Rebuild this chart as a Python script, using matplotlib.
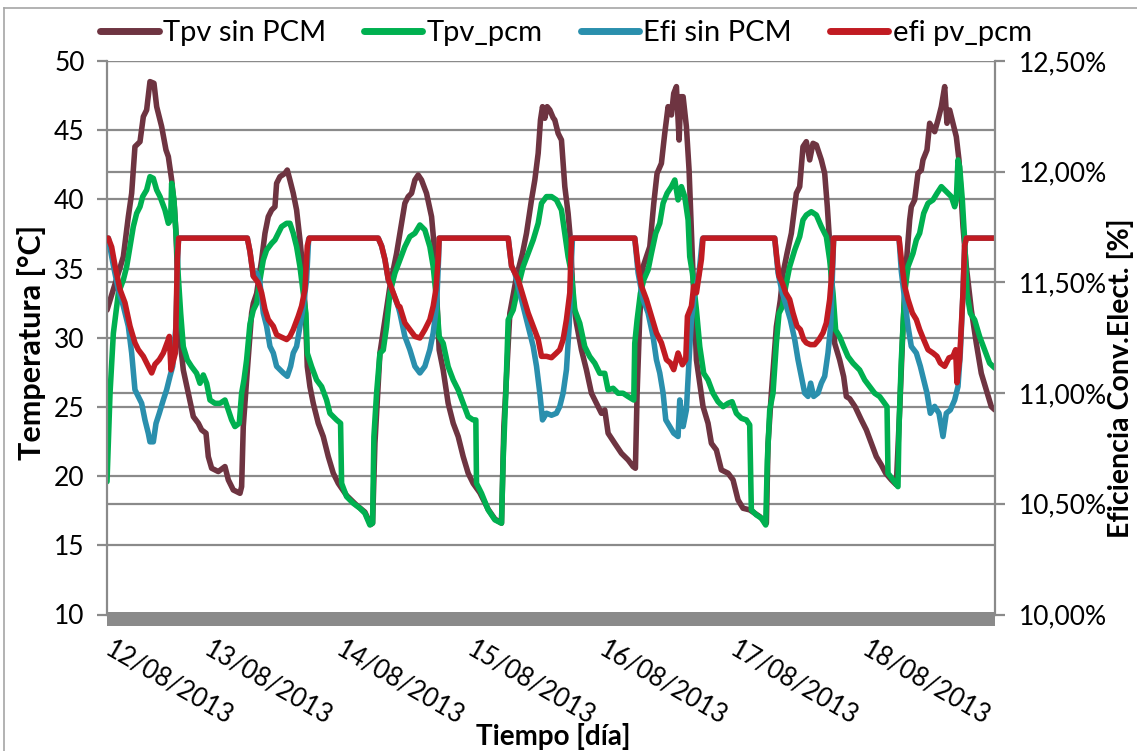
import matplotlib
matplotlib.use("Agg")
import matplotlib.pyplot as plt
from matplotlib.patches import Rectangle
from matplotlib.lines import Line2D
from matplotlib.transforms import ScaledTranslation
import numpy as np

# hours counted from 12/08/2013 00:00
day_ticks_h = [6, 24, 48, 72, 96, 120, 144]
day_labels = ["12/08/2013", "13/08/2013", "14/08/2013", "15/08/2013",
              "16/08/2013", "17/08/2013", "18/08/2013"]
t_start, t_end = 6, 168

# (hour, °C)
tpv_sin_pcm = [
    (6.0, 32.0), (8.07, 34.66), (8.98, 35.86), (9.89, 38.75), (10.5, 40.44), (11.1, 43.81),
    (12.02, 44.17), (12.63, 45.98), (13.23, 46.46), (13.84, 48.51), (14.57, 48.39), (15.06, 46.7),
    (15.97, 45.26), (16.76, 43.57), (17.19, 43.09), (17.8, 41.4), (18.3, 39.4), (18.6, 37.5),
    (19.19, 30.3), (19.92, 27.67), (20.83, 25.99), (21.75, 24.3), (22.66, 23.82), (23.26, 23.34),
    (24.06, 23.1), (24.48, 21.41), (25.09, 20.57), (26.3, 20.33), (27.52, 20.69), (28.13, 19.73),
    (29.04, 19.0), (30.26, 18.76), (30.56, 19.24), (30.86, 23.58), (31.47, 26.95), (32.38, 31.77),
    (32.69, 32.49), (33.3, 33.2), (34.21, 35.62), (34.82, 37.55), (35.42, 38.75), (36.03, 39.23),
    (36.64, 39.47), (36.94, 41.16), (37.55, 41.64), (38.46, 41.88), (38.89, 42.12), (39.37, 41.4),
    (39.98, 40.44), (40.59, 39.23), (41.2, 37.07), (41.81, 34.66), (42.29, 30.8), (42.54, 27.91),
    (43.02, 26.47), (43.63, 25.26), (44.54, 23.82), (45.45, 22.86), (46.37, 21.41), (47.28, 20.21),
    (48.19, 19.48), (49.71, 18.6), (51.53, 17.9), (53.05, 17.4), (54.09, 16.5), (54.45, 16.6),
    (54.88, 22.37), (55.79, 28.88), (57.61, 33.7), (58.83, 36.1), (59.43, 37.55), (60.34, 39.72),
    (60.95, 40.2), (61.56, 40.44), (62.17, 41.4), (62.77, 41.76), (63.38, 41.4), (64.29, 40.44),
    (65.21, 38.75), (65.81, 36.1), (66.24, 32.25), (66.6, 29.12), (67.33, 27.67), (68.24, 25.26),
    (69.16, 23.82), (70.07, 22.86), (70.98, 21.41), (71.89, 20.21), (72.8, 19.48), (74.02, 18.8),
    (75.54, 17.6), (76.76, 16.9), (77.97, 16.6), (78.4, 23.58), (79.49, 31.77), (80.71, 34.42),
    (81.8, 36.1), (82.53, 37.55), (83.44, 39.96), (84.05, 41.4), (84.66, 43.33), (85.08, 45.74),
    (85.45, 46.7), (85.87, 45.86), (86.3, 46.7), (86.79, 46.46), (87.39, 45.9), (87.69, 45.74),
    (88.3, 44.77), (88.91, 44.29), (89.52, 40.92), (90.12, 38.99), (90.55, 37.07), (91.04, 32.73),
    (91.64, 31.05), (92.56, 29.12), (93.47, 27.67), (94.38, 25.99), (95.29, 25.26), (96.2, 24.54),
    (96.81, 24.78), (97.42, 23.1), (98.63, 22.37), (99.85, 21.65), (101.07, 21.17), (101.98, 20.69),
    (102.4, 20.57), (102.71, 25.99), (103.19, 31.53), (103.8, 35.14), (104.41, 35.86), (105.02, 36.58),
    (105.75, 39.72), (106.35, 41.88), (107.14, 42.6), (107.75, 44.77), (108.36, 46.7), (108.97, 46.1),
    (109.39, 47.66), (109.88, 48.15), (110.37, 44.29), (110.67, 47.42), (111.1, 47.42), (111.7, 45.26),
    (112.19, 42.12), (112.62, 37.55), (113.04, 33.21), (113.53, 28.4), (114.2, 26.5), (114.74, 25.02),
    (115.65, 23.82), (116.26, 22.37), (117.17, 21.89), (118.08, 20.45), (119.3, 20.21), (120.21, 19.73),
    (121.12, 18.28), (122.03, 17.68), (123.25, 17.56), (125.07, 17.08), (126.29, 16.6), (126.6, 22.37),
    (127.2, 25.99), (128.11, 30.8), (128.84, 32.73), (129.33, 34.66), (130.06, 36.1), (130.85, 37.55),
    (131.76, 40.44), (132.37, 40.92), (132.97, 43.81), (133.58, 44.17), (134.19, 42.85), (134.8, 44.05),
    (135.41, 43.93), (136.32, 42.85), (136.93, 41.88), (137.41, 39.47), (137.96, 36.1), (138.33, 32.73),
    (138.75, 29.6), (139.66, 28.4), (140.39, 27.19), (140.88, 25.75), (141.49, 25.6), (142.5, 25.0),
    (143.62, 24.06), (144.53, 23.34), (145.44, 22.37), (146.35, 21.41), (147.26, 20.81), (148.06, 20.21),
    (149.09, 19.73), (150.0, 19.37), (150.61, 24.78), (151.22, 30.8), (151.82, 35.38), (152.43, 38.51),
    (152.73, 39.47), (153.34, 39.96), (153.95, 41.88), (154.56, 42.12), (154.86, 42.85), (155.59, 43.57),
    (156.08, 45.5), (156.99, 44.89), (157.6, 45.74), (158.21, 46.7), (158.82, 48.15), (159.24, 45.5),
    (159.73, 46.46), (160.33, 45.5), (160.94, 44.53), (161.43, 42.85), (162.16, 38.03), (162.77, 35.14),
    (163.68, 32.01), (164.59, 29.6), (165.5, 27.43), (166.41, 26.23), (167.33, 25.02), (168.0, 24.78),
]

tpv_pcm = [
    (6.0, 19.6), (6.55, 25.98), (7.16, 30.32), (8.07, 33.21), (8.98, 34.18), (9.59, 35.14),
    (10.2, 36.58), (10.8, 38.03), (11.41, 38.99), (12.02, 39.47), (12.51, 40.2), (13.23, 40.68),
    (13.84, 41.64), (14.45, 41.52), (15.06, 40.68), (15.67, 40.2), (16.58, 39.23), (17.19, 38.27),
    (17.61, 38.51), (17.79, 41.16), (18.22, 39.96), (18.58, 37.55), (19.01, 34.42), (19.44, 31.77),
    (19.92, 29.36), (20.65, 28.4), (21.44, 27.91), (22.35, 27.43), (22.96, 26.71), (23.57, 27.31),
    (24.18, 26.71), (24.79, 25.5), (25.7, 25.26), (26.61, 25.26), (27.52, 25.5), (28.13, 24.78),
    (28.74, 24.06), (29.34, 23.58), (30.13, 23.82), (30.56, 25.99), (30.99, 26.95), (31.47, 28.4),
    (32.08, 31.0), (32.69, 32.0), (33.3, 32.49), (33.9, 34.18), (34.51, 35.62), (35.12, 36.34),
    (36.03, 36.82), (36.64, 37.07), (37.25, 37.55), (37.85, 38.03), (38.77, 38.27), (39.37, 38.27),
    (39.98, 37.55), (40.59, 36.58), (41.2, 35.14), (41.81, 33.21), (42.29, 31.77), (42.54, 28.88),
    (43.33, 27.91), (44.24, 26.95), (45.15, 26.47), (46.06, 25.5), (46.67, 24.54), (47.89, 24.06),
    (48.61, 23.82), (48.8, 19.48), (49.71, 18.52), (50.92, 18.04), (52.14, 17.68), (53.05, 17.32),
    (53.96, 16.47), (54.45, 16.6), (54.69, 22.85), (55.18, 25.99), (55.79, 28.88), (56.4, 29.12),
    (57.0, 30.8), (57.61, 33.21), (58.52, 34.66), (59.44, 35.62), (60.34, 36.58), (61.25, 37.31),
    (62.17, 37.55), (63.08, 38.15), (63.99, 37.79), (64.9, 36.58), (65.51, 35.14), (66.12, 32.73),
    (66.6, 30.08), (67.33, 29.6), (68.24, 27.91), (69.16, 26.95), (70.07, 26.23), (70.98, 25.26),
    (71.89, 24.3), (72.8, 24.06), (73.29, 24.06), (73.41, 19.48), (74.32, 18.76), (75.54, 17.56),
    (76.76, 16.84), (77.97, 16.6), (78.27, 21.17), (78.76, 25.99), (79.19, 31.29), (80.1, 32.01),
    (81.01, 33.69), (81.92, 35.14), (82.83, 36.1), (83.75, 37.07), (84.66, 38.27), (85.27, 39.72),
    (86.18, 40.2), (87.09, 40.2), (87.99, 39.96), (88.91, 39.23), (89.52, 37.55), (90.12, 35.86),
    (90.73, 34.66), (91.34, 32.01), (92.25, 31.05), (93.16, 29.36), (94.07, 28.64), (94.99, 28.16),
    (95.9, 27.43), (96.81, 27.43), (97.42, 26.23), (98.33, 26.35), (99.24, 25.99), (100.15, 25.99),
    (101.07, 25.75), (102.1, 25.5), (102.28, 29.6), (102.71, 31.29), (103.31, 33.21), (103.92, 34.18),
    (104.71, 34.9), (105.32, 36.1), (106.11, 37.55), (106.84, 38.27), (107.45, 39.72), (108.18, 40.44),
    (108.97, 40.92), (109.58, 41.4), (110.18, 39.96), (110.79, 40.92), (111.4, 40.2), (112.01, 38.51),
    (112.31, 35.86), (112.8, 34.66), (113.53, 32.01), (114.14, 29.36), (114.86, 27.43), (115.65, 26.95),
    (116.56, 25.99), (117.47, 25.38), (118.39, 25.02), (119.3, 25.26), (120.03, 25.38), (120.82, 24.54),
    (121.73, 24.18), (122.64, 24.06), (123.25, 23.7), (123.55, 17.56), (124.46, 17.2), (125.38, 16.96),
    (126.17, 16.47), (126.47, 21.17), (126.9, 24.78), (127.5, 25.99), (128.11, 29.6), (128.6, 31.77),
    (129.2, 32.25), (129.81, 33.69), (130.54, 35.14), (131.46, 36.34), (132.37, 37.31), (132.97, 38.51),
    (133.58, 38.87), (134.49, 39.11), (135.41, 38.87), (136.32, 38.03), (137.23, 37.31), (137.84, 35.62),
    (138.45, 33.21), (138.93, 30.56), (139.66, 30.08), (140.39, 29.36), (141.18, 28.64), (142.1, 28.16),
    (143.31, 27.67), (144.23, 26.95), (145.14, 26.47), (146.05, 25.99), (146.96, 25.75), (147.87, 25.26),
    (148.3, 25.02), (148.48, 20.21), (149.39, 19.73), (150.3, 19.24), (150.49, 23.58), (150.91, 28.4),
    (151.52, 33.21), (152.13, 35.14), (153.04, 36.1), (153.65, 37.07), (154.25, 37.55), (154.99, 38.99),
    (155.78, 39.72), (156.69, 39.96), (157.42, 40.44), (158.21, 40.92), (158.82, 40.68), (159.42, 40.44),
    (160.03, 40.2), (160.64, 39.47), (160.94, 39.96), (161.25, 42.85), (161.55, 42.36), (162.04, 39.96),
    (162.46, 37.07), (162.89, 33.21), (163.5, 31.77), (164.29, 31.29), (165.2, 30.08), (166.11, 29.12),
    (167.02, 28.16), (168.0, 27.8),
]

# (hour, %)
efi_sin_pcm = [
    (6.0, 11.70), (6.24, 11.70), (7.16, 11.576), (8.07, 11.468), (8.98, 11.393), (9.89, 11.302),
    (10.5, 11.181), (11.1, 11.015), (11.71, 10.985), (12.32, 10.954), (12.93, 10.878), (13.54, 10.818),
    (13.84, 10.78), (14.45, 10.78), (14.94, 10.863), (15.54, 10.909), (16.27, 10.969), (16.88, 11.015),
    (17.49, 11.076), (17.98, 11.121), (18.58, 11.302), (18.95, 11.66), (19.07, 11.70), (31.6, 11.70),
    (32.08, 11.64), (32.69, 11.528), (33.3, 11.543), (33.9, 11.498), (34.51, 11.362), (35.12, 11.302),
    (35.73, 11.211), (36.34, 11.181), (36.94, 11.121), (37.55, 11.106), (38.16, 11.091), (38.89, 11.076),
    (39.5, 11.121), (39.98, 11.181), (40.59, 11.211), (41.2, 11.302), (41.81, 11.393), (42.41, 11.513),
    (42.78, 11.695), (42.9, 11.70), (55.48, 11.70), (56.09, 11.665), (56.7, 11.604), (57.31, 11.513),
    (58.22, 11.45), (59.13, 11.39), (59.43, 11.362), (60.34, 11.256), (61.25, 11.196), (62.17, 11.121),
    (63.08, 11.091), (63.99, 11.121), (64.9, 11.196), (65.51, 11.272), (66.12, 11.393), (66.48, 11.6),
    (66.6, 11.70), (79.19, 11.70), (79.8, 11.574), (80.4, 11.543), (81.01, 11.483), (81.92, 11.393),
    (82.83, 11.302), (83.75, 11.211), (84.36, 11.121), (84.96, 11.0), (85.45, 10.879), (86.18, 10.909),
    (87.09, 10.90), (87.99, 10.909), (88.6, 10.94), (89.21, 11.0), (89.82, 11.106), (90.31, 11.302),
    (90.73, 11.604), (90.91, 11.695), (91.04, 11.70), (102.28, 11.70), (102.89, 11.543), (103.8, 11.423),
    (104.71, 11.362), (105.62, 11.256), (106.23, 11.151), (106.84, 11.091), (107.45, 11.0), (107.94, 10.879),
    (108.67, 10.849), (109.39, 10.819), (110.18, 10.804), (110.49, 10.969), (111.1, 10.849), (111.7, 10.924),
    (112.19, 11.151), (112.62, 11.332), (113.22, 11.453), (114.01, 11.543), (114.62, 11.695), (114.74, 11.70),
    (127.81, 11.70), (128.42, 11.543), (129.2, 11.453), (129.94, 11.393), (130.66, 11.332), (131.46, 11.242),
    (132.06, 11.151), (132.67, 11.076), (133.28, 11.0), (133.89, 10.985), (134.37, 11.045), (134.92, 10.985),
    (135.71, 11.0), (136.32, 11.045), (136.93, 11.076), (137.53, 11.181), (138.02, 11.302), (138.33, 11.528),
    (138.57, 11.70), (150.49, 11.70), (150.91, 11.55), (151.52, 11.423), (152.13, 11.302), (152.73, 11.211),
    (153.65, 11.181), (154.38, 11.121), (154.99, 11.061), (155.59, 11.0), (156.2, 10.909), (156.99, 10.94),
    (157.78, 10.909), (158.51, 10.804), (159.12, 10.909), (159.85, 10.924), (160.64, 10.969), (161.25, 11.03),
    (161.67, 11.181), (162.16, 11.453), (162.46, 11.665), (162.77, 11.70), (168.0, 11.70),
]

efi_pv_pcm = [
    (6.0, 11.70), (6.24, 11.70), (6.85, 11.66), (7.46, 11.576), (8.37, 11.468), (9.28, 11.408),
    (10.2, 11.302), (11.1, 11.227), (11.71, 11.196), (12.63, 11.166), (13.54, 11.121), (14.15, 11.091),
    (14.75, 11.13), (15.54, 11.151), (16.27, 11.181), (17.19, 11.242), (17.37, 11.256), (17.67, 11.105),
    (18.46, 11.18), (18.83, 11.6), (19.07, 11.70), (31.6, 11.70), (32.08, 11.64), (32.69, 11.528),
    (33.6, 11.498), (34.21, 11.453), (34.82, 11.378), (35.42, 11.332), (36.34, 11.302), (36.94, 11.264),
    (37.55, 11.256), (38.16, 11.249), (38.77, 11.242), (39.37, 11.256), (39.98, 11.287), (40.89, 11.347),
    (41.5, 11.393), (42.11, 11.468), (42.54, 11.665), (42.9, 11.70), (55.48, 11.70), (56.09, 11.665),
    (56.7, 11.604), (57.31, 11.513), (58.22, 11.453), (59.13, 11.393), (59.43, 11.39), (60.34, 11.317),
    (61.25, 11.287), (62.17, 11.256), (63.08, 11.249), (63.99, 11.287), (64.9, 11.332), (65.51, 11.393),
    (66.0, 11.468), (66.42, 11.604), (66.6, 11.70), (79.19, 11.70), (79.8, 11.574), (80.4, 11.543),
    (81.01, 11.513), (81.92, 11.438), (82.83, 11.362), (83.75, 11.302), (84.66, 11.242), (85.27, 11.166),
    (86.18, 11.166), (87.09, 11.16), (87.99, 11.181), (88.6, 11.196), (89.21, 11.242), (89.82, 11.332),
    (90.43, 11.453), (90.73, 11.695), (91.04, 11.70), (102.28, 11.70), (102.89, 11.574), (103.5, 11.483),
    (104.41, 11.423), (105.32, 11.347), (106.23, 11.272), (107.14, 11.227), (108.06, 11.151), (108.79, 11.136),
    (109.39, 11.106), (110.18, 11.181), (110.97, 11.128), (111.58, 11.151), (111.89, 11.347), (112.62, 11.393),
    (113.04, 11.483), (113.53, 11.453), (114.44, 11.604), (114.74, 11.70), (127.81, 11.70), (128.23, 11.604),
    (128.6, 11.528), (129.2, 11.498), (129.81, 11.453), (130.54, 11.423), (131.15, 11.362), (131.88, 11.302),
    (132.49, 11.287), (133.1, 11.242), (133.58, 11.227), (134.31, 11.219), (135.1, 11.219), (135.89, 11.242),
    (136.62, 11.272), (137.23, 11.317), (137.84, 11.423), (138.33, 11.574), (138.57, 11.70), (150.49, 11.70),
    (150.91, 11.604), (151.52, 11.483), (152.13, 11.423), (152.92, 11.362), (153.65, 11.332), (154.25, 11.287),
    (154.99, 11.242), (155.78, 11.196), (156.69, 11.181), (157.42, 11.166), (158.02, 11.136), (158.82, 11.121),
    (159.6, 11.159), (160.33, 11.166), (160.82, 11.196), (161.06, 11.047), (161.55, 11.151), (162.16, 11.453),
    (162.46, 11.665), (162.77, 11.70), (168.0, 11.70),
]

temp_ticks = [10, 15, 20, 25, 30, 35, 40, 45, 50]
eff_ticks = [10.0, 10.5, 11.0, 11.5, 12.0, 12.5]

c_tpv_sin = "#6E3441"
c_tpv_pcm = "#00B050"
c_efi_sin = "#2A8FAD"
c_efi_pcm = "#C11B22"
c_grid = "#8A8A8A"

plt.rcParams["font.family"] = ["Lato", "DejaVu Sans"]

fig = plt.figure(figsize=(11.37, 7.51), dpi=100)
ax1 = fig.add_axes([107 / 1137, 1 - 614.5 / 751, 888 / 1137, 553.5 / 751])
ax2 = ax1.twinx()

ax1.set_xlim(t_start, t_end)
ax1.set_ylim(temp_ticks[0], temp_ticks[-1])
ax2.set_ylim(eff_ticks[0], eff_ticks[-1])

# grid lines for both axes sit under every series
t_lo, t_hi = ax1.get_ylim()
e_lo, e_hi = ax2.get_ylim()
for t in temp_ticks:
    ax1.axhline(t, color=c_grid, lw=1.6, zorder=0)
for e in eff_ticks:
    ax1.axhline(t_lo + (e - e_lo) / (e_hi - e_lo) * (t_hi - t_lo), color=c_grid, lw=1.6, zorder=0)

line_kw = dict(lw=4.0, solid_joinstyle="round", solid_capstyle="round")
h, v = zip(*tpv_sin_pcm)
l1, = ax1.plot(h, v, color=c_tpv_sin, label="Tpv sin PCM", **line_kw)
h, v = zip(*tpv_pcm)
l2, = ax1.plot(h, v, color=c_tpv_pcm, label="Tpv_pcm", **line_kw)
h, v = zip(*efi_sin_pcm)
l3, = ax2.plot(h, v, color=c_efi_sin, label="Efi sin PCM", **line_kw)
h, v = zip(*efi_pv_pcm)
l4, = ax2.plot(h, v, color=c_efi_pcm, label="efi pv_pcm", **line_kw)

# thick date axis bar
ax1.add_patch(Rectangle((t_start, 9.15), t_end - t_start, 1.0, color="#8A8A8A",
                        clip_on=False, zorder=1, lw=0))

for a in (ax1, ax2):
    for s in a.spines.values():
        s.set_visible(False)
ax1.spines["left"].set_visible(True)
ax1.spines["left"].set_color(c_grid)
ax1.spines["left"].set_linewidth(1.6)
ax2.spines["right"].set_visible(True)
ax2.spines["right"].set_color(c_grid)
ax2.spines["right"].set_linewidth(1.6)

ax1.set_yticks(temp_ticks)
ax1.set_yticklabels([str(t) for t in temp_ticks])
ax2.set_yticks(eff_ticks)
ax2.set_yticklabels([f"{e:.2f}".replace(".", ",") + "%" for e in eff_ticks])
ax1.tick_params(axis="y", labelsize=19, length=7, width=1.6, color=c_grid, pad=9)
ax2.tick_params(axis="y", labelsize=19, length=7, width=1.6, color=c_grid, pad=10)

ax1.set_xticks(day_ticks_h)
ax1.set_xticklabels(day_labels, rotation=-30, ha="left", va="top", rotation_mode="anchor")
ax1.tick_params(axis="x", labelsize=18.5, length=0, pad=16)
# nudge the slanted date labels a little to the right of their ticks
shift = ScaledTranslation(7 / 100, 0, fig.dpi_scale_trans)
for lab in ax1.get_xticklabels():
    lab.set_transform(lab.get_transform() + shift)

fig.text(32 / 1137, 1 - 342 / 751, "Temperatura [°C]", rotation=90, fontsize=22,
         fontweight="bold", ha="center", va="center")
fig.text(1120 / 1137, 1 - 378 / 751, "Eficiencia Conv.Elect. [%]", rotation=90, fontsize=20.5,
         fontweight="bold", ha="center", va="center")
fig.text(553 / 1137, 1 - 737 / 751, "Tiempo [día]", fontsize=20, fontweight="bold",
         ha="center", va="center")

handles = [Line2D([], [], color=l.get_color(), lw=5, solid_capstyle="round") for l in (l1, l2, l3, l4)]
fig.legend(handles, [l.get_label() for l in (l1, l2, l3, l4)], loc="center",
           bbox_to_anchor=(566 / 1137, 1 - 33 / 751), ncol=4, frameon=False, fontsize=21,
           handlelength=2.0, handletextpad=0.15, columnspacing=1.3)

# chart area border
fig.add_artist(Line2D([4 / 1137, 1], [1 - 8 / 751, 1 - 8 / 751], color="#A6A6A6", lw=1.2))
fig.add_artist(Line2D([4 / 1137, 4 / 1137], [0, 1 - 8 / 751], color="#A6A6A6", lw=1.2))

fig.savefig("out.png", dpi=100)
